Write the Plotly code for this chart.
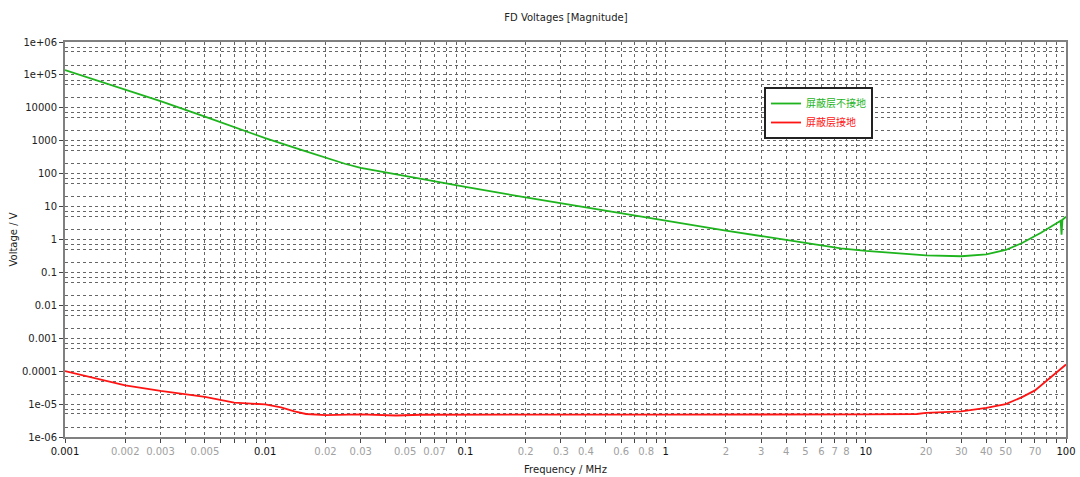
import plotly.graph_objects as go

# ---------------- data ----------------
freq_green = [0.001, 0.002, 0.003, 0.005, 0.007, 0.01, 0.015, 0.02, 0.025, 0.03, 0.06,
              0.1, 0.2, 0.4, 0.5, 0.9, 1, 2, 4, 7.5, 10, 15, 20, 30, 40, 50, 60,
              75, 90, 94, 95, 96, 100]
volt_green = [1.4e5, 3.6e4, 1.6e4, 5.4e3, 2.6e3, 1.2e3, 540, 300, 200, 150, 69,
              40, 19, 9.3, 7.5, 4.2, 3.7, 1.86, 0.97, 0.54, 0.45, 0.37, 0.33, 0.31, 0.355, 0.48, 0.77,
              1.6, 3.3, 3.7, 1.4, 4.0, 4.9]

freq_red = [0.001, 0.002, 0.003, 0.005, 0.007, 0.01, 0.012, 0.014, 0.016, 0.02, 0.03,
            0.045, 0.06, 0.1, 1, 10, 18, 20, 30, 40, 50, 60, 70, 80, 90, 100]
volt_red = [1.0e-4, 3.7e-5, 2.5e-5, 1.65e-5, 1.1e-5, 9.8e-6, 8.0e-6, 6.0e-6, 5.0e-6, 4.6e-6, 4.9e-6,
            4.5e-6, 4.75e-6, 4.8e-6, 4.8e-6, 4.85e-6, 5.0e-6, 5.4e-6, 6.0e-6, 7.7e-6, 1.0e-5,
            1.6e-5, 2.6e-5, 5.1e-5, 9.0e-5, 1.6e-4]

name_green = "屏蔽层不接地"
name_red = "屏蔽层接地"

x_labeled = {0.001: "0.001", 0.002: "0.002", 0.003: "0.003", 0.005: "0.005",
             0.01: "0.01", 0.02: "0.02", 0.03: "0.03", 0.05: "0.05", 0.07: "0.07",
             0.1: "0.1", 0.2: "0.2", 0.3: "0.3", 0.4: "0.4", 0.6: "0.6", 0.8: "0.8",
             1: "1", 2: "2", 3: "3", 4: "4", 5: "5", 6: "6", 7: "7", 8: "8",
             10: "10", 20: "20", 30: "30", 40: "40", 50: "50", 70: "70", 100: "100"}
x_decades = [0.001, 0.01, 0.1, 1, 10, 100]

y_major = [1e6, 1e5, 1e4, 1e3, 100, 10, 1, 0.1, 0.01, 0.001, 1e-4, 1e-5, 1e-6]
y_labels = ["1e+06", "1e+05", "10000", "1000", "100", "10", "1", "0.1", "0.01",
            "0.001", "0.0001", "1e-05", "1e-06"]
y_minor_mult = [2, 5, 7]

# ---------------- tick construction ----------------
x_tickvals, x_ticktext = [], []
for e in range(-3, 2):
    for k in range(1, 10):
        x_tickvals.append(round(k * 10 ** e, 6))
x_tickvals.append(100)
for v in x_tickvals:
    key = None
    for kk in x_labeled:
        if abs(kk - v) / kk < 1e-6:
            key = kk
    if key is None:
        x_ticktext.append("")
    elif any(abs(key - d) / d < 1e-6 for d in x_decades):
        x_ticktext.append('<span style="color:#111111">%s</span>' % x_labeled[key])
    else:
        x_ticktext.append('<span style="color:#a0a0a0">%s</span>' % x_labeled[key])

y_minor = [m * 10 ** e for e in range(-6, 6) for m in y_minor_mult]

FONT = "DejaVu Sans"
GRID = "#666666"

fig = go.Figure()
fig.add_trace(go.Scatter(x=freq_green, y=volt_green, mode="lines",
                         line=dict(color="#1db41d", width=1.8),
                         name='<span style="color:#1db41d">%s</span>' % name_green))
fig.add_trace(go.Scatter(x=freq_red, y=volt_red, mode="lines",
                         line=dict(color="#ff1414", width=1.8),
                         name='<span style="color:#ff1414">%s</span>' % name_red))

fig.update_layout(
    width=1080, height=477,
    paper_bgcolor="white", plot_bgcolor="white",
    margin=dict(l=65, r=14, t=42, b=40),
    font=dict(family=FONT, size=10, color="#222222"),
    title=dict(text="FD Voltages [Magnitude]", x=0.524, xanchor="center",
               y=1 - 17 / 477, yanchor="middle",
               font=dict(family=FONT, size=10, color="#222222")),
    showlegend=True,
    legend=dict(x=(764 - 65) / 1001, y=(437 - 87) / 395, xanchor="left", yanchor="top",
                bgcolor="white", bordercolor="#222222", borderwidth=2,
                font=dict(family="Noto Sans CJK SC", size=10),
                itemwidth=30, tracegroupgap=0),
)

fig.update_xaxes(
    type="log", range=[-3, 2], automargin=False,
    tickmode="array", tickvals=x_tickvals, ticktext=x_ticktext,
    ticks="outside", ticklen=4, tickcolor="#444444",
    showgrid=True, gridcolor=GRID, griddash="dot", gridwidth=1,
    showline=True, linecolor="#808080", linewidth=2, mirror=True,
    zeroline=False,
    title=dict(text="Frequency / MHz", standoff=10, font=dict(family=FONT, size=10)),
    tickfont=dict(family=FONT, size=10),
)
fig.update_yaxes(
    type="log", range=[-6, 6], automargin=False,
    tickmode="array", tickvals=y_major, ticktext=y_labels,
    ticks="outside", ticklen=4, tickcolor="#444444",
    showgrid=True, gridcolor=GRID, griddash="dot", gridwidth=1,
    minor=dict(tickmode="array", tickvals=y_minor, showgrid=True,
               gridcolor=GRID, griddash="dot", gridwidth=1, ticks=""),
    showline=True, linecolor="#808080", linewidth=2, mirror=True,
    zeroline=False,
    title=dict(text="Voltage / V", standoff=3, font=dict(family=FONT, size=10)),
    tickfont=dict(family=FONT, size=10),
)

fig.write_html("out.html", config={"displayModeBar": False},
               post_script="document.body.style.margin='0';document.body.style.overflow='hidden';")
